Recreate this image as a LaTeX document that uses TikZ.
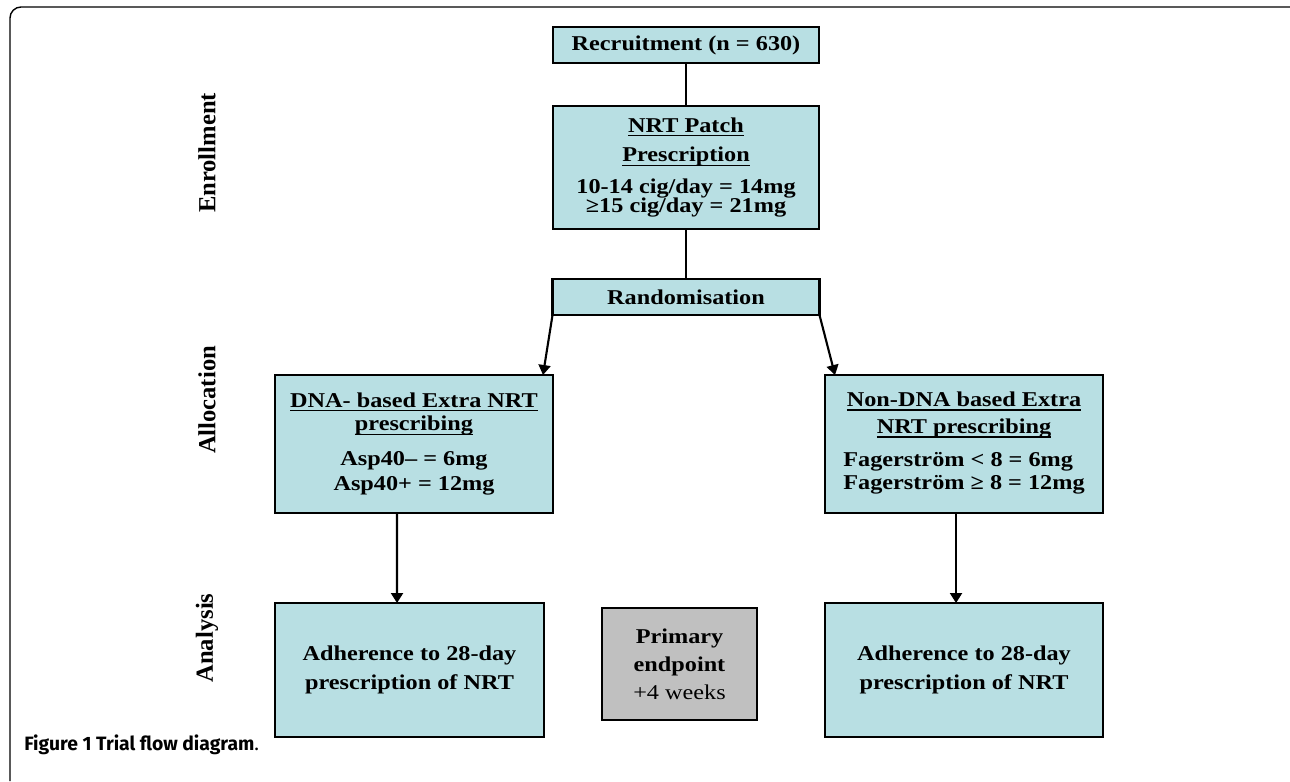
\documentclass[tikz,border=0pt]{standalone}
\usepackage{fontspec}
\setmainfont{Liberation Serif}
\newfontfamily\boxfont{Liberation Serif}[FakeStretch=1.15]
\newfontfamily\capfont{Fira Sans}
\usetikzlibrary{arrows.meta,positioning,calc}
\definecolor{boxcyan}{RGB}{184,223,227}
\definecolor{boxgrey}{RGB}{192,192,192}
\newcommand\undl[1]{\setbox0\hbox{#1}\rlap{\rule[-2.4pt]{\wd0}{0.9pt}}\box0}

\begin{document}
\begin{tikzpicture}[
  x=0.02cm, y=-0.02cm,
  box/.style={draw, line width=1.6pt, fill=boxcyan, align=center, inner sep=0pt, outer sep=0pt, font=\boxfont\bfseries\fontsize{12}{13}\selectfont},
  endbox/.style={box, fill=boxgrey},
  phase/.style={rotate=90, font=\bfseries\fontsize{14}{15}\selectfont},
  link/.style={line width=1.2pt},
  arr/.style={link, -{Triangle[length=2mm, width=2.4mm]}},
  frame/.style={line width=0.8pt, rounded corners=0.22cm}
]
\useasboundingbox (0,0) rectangle (1290,781);

% figure frame
\draw[frame] (10,781) -- (10,7) -- (1290,7);

% phase labels on the left
\node[phase] (enrol) at (207,153) {Enrollment};
\node[phase] (alloc) at (207,400) {Allocation};
\node[phase] (anal) at (207,638) {Analysis};

% enrollment (centre spine)
\node[box, minimum width=5.32cm, minimum height=0.72cm] (rec) at (686,45) {Recruitment (n = 630)};
\node[box, below=0.86cm of rec, minimum width=5.32cm, minimum height=2.46cm] (nrt)
  {\undl{NRT Patch}\\[4pt]\undl{Prescription}\\[5pt]10-14 cig/day = 14mg\\[-2pt]≥15 cig/day = 21mg};
\node[box, below=1cm of nrt, minimum width=5.34cm, minimum height=0.72cm] (rand) {Randomisation};

% allocation arms
\node[box, minimum width=5.56cm, minimum height=2.76cm] (dna) at (414,444)
  {\undl{DNA- based Extra NRT}\\[0.5pt]\undl{prescribing}\\[6.5pt]Asp40– = 6mg\\[1.5pt]Asp40+ = 12mg};
\node[box, minimum width=5.56cm, minimum height=2.76cm] (ndna) at (964,444)
  {\undl{Non-DNA based Extra}\\[2.3pt]\undl{NRT prescribing}\\[5.7pt]%
   \begin{tabular}[t]{@{}l@{}}Fagerström < 8 = 6mg\\Fagerström ≥ 8 = 12mg\end{tabular}};

% analysis row
\node[box, minimum width=5.38cm, minimum height=2.68cm] (adh1) at (409.5,670)
  {Adherence to 28-day\\[3.5pt]prescription of NRT};
\node[endbox, minimum width=3.1cm, minimum height=2.24cm] (prim) at (679.5,664)
  {Primary\\[3pt]endpoint\\[3pt]{\mdseries +4 weeks}};
\node[box, minimum width=5.56cm, minimum height=2.68cm] (adh2) at (964,670)
  {Adherence to 28-day\\[3.5pt]prescription of NRT};

% connectors
\draw[link] (rec) -- (nrt);
\draw[link] (nrt.south) -- (nrt.south |- rand.north);
\draw[arr] (rand.south west) -- ($(dna.north east)+(-10,0)$);
\draw[arr] (rand.south east) -- ($(ndna.north west)+(10,0)$);
\draw[arr] ($(dna.south west)+(122,0)$) -- ($(adh1.north west)+(122,0)$);
\draw[arr] ($(ndna.south west)+(131,0)$) -- ($(adh2.north west)+(131,0)$);

% caption
\node[anchor=base west, inner sep=0pt, font=\capfont\fontsize{11}{13}\selectfont] (cap) at (24,750)
  {\textbf{Figure 1 Trial flow diagram}.};
\end{tikzpicture}
\end{document}
